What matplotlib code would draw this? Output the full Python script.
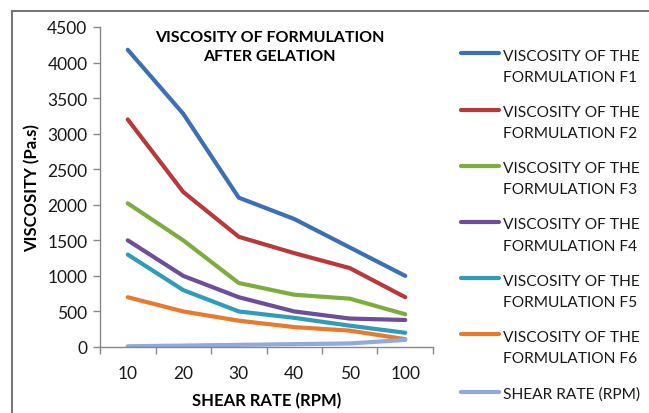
import matplotlib
matplotlib.use("Agg")
import matplotlib.pyplot as plt
from matplotlib.legend_handler import HandlerLine2D
from matplotlib.lines import Line2D

categories = ["10", "20", "30", "40", "50", "100"]
f1 = [4180, 3280, 2100, 1800, 1400, 1000]
f2 = [3200, 2180, 1550, 1320, 1110, 700]
f3 = [2020, 1500, 900, 735, 680, 460]
f4 = [1500, 1000, 700, 500, 400, 380]
f5 = [1300, 800, 500, 410, 300, 200]
f6 = [700, 500, 370, 280, 230, 110]
shear = [10, 20, 30, 40, 50, 100]
series_labels = ["VISCOSITY OF THE\nFORMULATION F1", "VISCOSITY OF THE\nFORMULATION F2",
                 "VISCOSITY OF THE\nFORMULATION F3", "VISCOSITY OF THE\nFORMULATION F4",
                 "VISCOSITY OF THE\nFORMULATION F5", "VISCOSITY OF THE\nFORMULATION F6",
                 "SHEAR RATE (RPM)"]
colors = ["#3B70B8", "#B9393B", "#7DAE3D", "#6E4D9C", "#2E9DBB", "#EA7A2B", "#8FAADC"]

plt.rcParams['font.family'] = ['Lato', 'DejaVu Sans']

fig = plt.figure(figsize=(6.49, 4.14), dpi=100)
ax = fig.add_axes([100/649, 1-348/414, 333/649, 320/414])

x = list(range(len(categories)))
for vals, lab, c in zip([f1, f2, f3, f4, f5, f6, shear], series_labels, colors):
    ax.plot(x, vals, color=c, lw=3, label=lab, solid_capstyle='round', solid_joinstyle='round')

ax.set_xlim(-0.5, len(categories) - 0.5)
ax.set_ylim(0, 4500)
ax.set_yticks(range(0, 4501, 500))
ax.set_xticks(x)
ax.set_xticklabels(categories)
ax.set_xticks([i - 0.5 for i in range(len(categories) + 1)], minor=True)
ax.tick_params(axis='x', which='major', length=0, pad=13, labelsize=12.5, colors='#1a1a1a')
ax.tick_params(axis='x', which='minor', length=5, color='#888888', width=1)
ax.tick_params(axis='y', length=5, color='#888888', width=1, labelsize=12.5, labelcolor='#1a1a1a', pad=4)
for s in ['top', 'right']:
    ax.spines[s].set_visible(False)
for s in ['left', 'bottom']:
    ax.spines[s].set_color('#888888')
    ax.spines[s].set_linewidth(1)

ax.set_xlabel("SHEAR RATE (RPM)", fontsize=12, fontweight='bold', labelpad=8)
ax.set_ylabel("VISCOSITY (Pa.s)", fontsize=12, fontweight='bold', labelpad=5)
ax.text(0.51, 0.99, "VISCOSITY OF FORMULATION\nAFTER GELATION", transform=ax.transAxes,
        ha='center', va='top', fontsize=11.5, fontweight='bold', linespacing=1.45)


class TopHandler(HandlerLine2D):
    def create_artists(self, legend, orig_handle, xdescent, ydescent, width, height, fontsize, trans):
        arts = super().create_artists(legend, orig_handle, xdescent, ydescent, width, height, fontsize, trans)
        lab = orig_handle.get_label()
        if "\n" in lab:
            for a in arts:
                if isinstance(a, Line2D):
                    yd = a.get_ydata()
                    a.set_ydata([v + 0.85 * fontsize for v in yd])
        return arts


handles, labels = ax.get_legend_handles_labels()
leg = fig.legend(handles, labels, loc='upper left', bbox_to_anchor=(461/649, 1 - 50/414),
                 frameon=False, fontsize=11.2, handlelength=2.45, handletextpad=0.26,
                 labelspacing=1.35, borderaxespad=0, borderpad=0,
                 handler_map={h: TopHandler() for h in handles})
for t in leg.get_texts():
    t.set_linespacing(1.65)
    t.set_color('#1a1a1a')

fig.add_artist(Line2D([12/649, 12/649], [0, 1 - 12/414], transform=fig.transFigure, color='#777777', lw=1.5))
fig.add_artist(Line2D([12/649, 1], [1 - 12/414, 1 - 12/414], transform=fig.transFigure, color='#777777', lw=1.5))

fig.savefig("out.png", dpi=100)
